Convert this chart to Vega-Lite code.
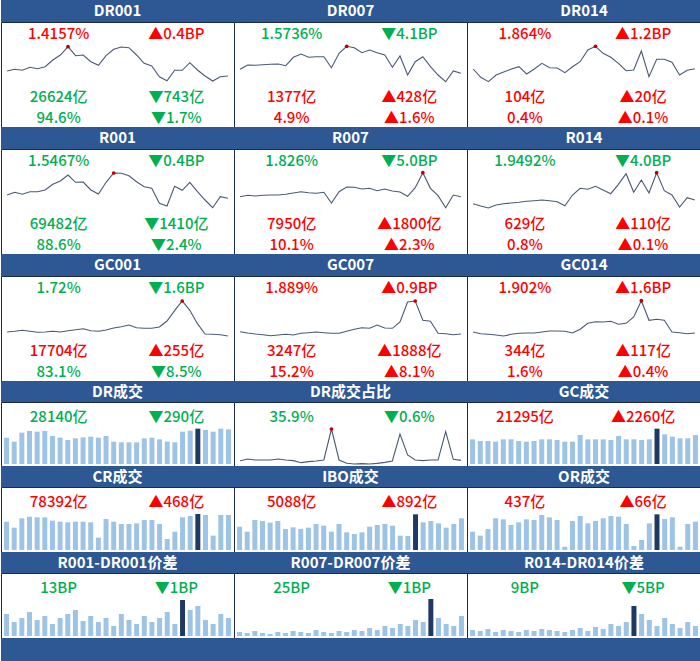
{
"$schema":"https://vega.github.io/schema/vega-lite/v6.json",
"padding":0,"background":"white",
"config":{"view":{"stroke":"#1c2b45","strokeWidth":1},"axis":{"disable":true},"legend":{"disable":true},"text":{"font":"Noto Sans CJK SC"}},
"datasets":{
"rates":[
{"p":"DR001","i":0,"v":56},{"p":"DR001","i":1,"v":57.7},{"p":"DR001","i":2,"v":56.7},{"p":"DR001","i":3,"v":59.7},{"p":"DR001","i":4,"v":58.3},{"p":"DR001","i":5,"v":60.3},{"p":"DR001","i":6,"v":67},{"p":"DR001","i":7,"v":72},{"p":"DR001","i":8,"v":80.3},{"p":"DR001","i":9,"v":71.3},{"p":"DR001","i":10,"v":72},{"p":"DR001","i":11,"v":65.3},{"p":"DR001","i":12,"v":61.7},{"p":"DR001","i":13,"v":71.3},{"p":"DR001","i":14,"v":77.7},{"p":"DR001","i":15,"v":80},{"p":"DR001","i":16,"v":79.3},{"p":"DR001","i":17,"v":72},{"p":"DR001","i":18,"v":63.7},{"p":"DR001","i":19,"v":61},{"p":"DR001","i":20,"v":50.3},{"p":"DR001","i":21,"v":46.3},{"p":"DR001","i":22,"v":56.7},{"p":"DR001","i":23,"v":56.7},{"p":"DR001","i":24,"v":64.3},{"p":"DR001","i":25,"v":57},{"p":"DR001","i":26,"v":51},{"p":"DR001","i":27,"v":46},{"p":"DR001","i":28,"v":50.3},{"p":"DR001","i":29,"v":51},
{"p":"DR007","i":0,"v":57.7},{"p":"DR007","i":1,"v":62},{"p":"DR007","i":2,"v":61.7},{"p":"DR007","i":3,"v":62.3},{"p":"DR007","i":4,"v":62.7},{"p":"DR007","i":5,"v":63},{"p":"DR007","i":6,"v":61.3},{"p":"DR007","i":7,"v":69.7},{"p":"DR007","i":8,"v":73},{"p":"DR007","i":9,"v":69.7},{"p":"DR007","i":10,"v":70.3},{"p":"DR007","i":11,"v":70.3},{"p":"DR007","i":12,"v":59.3},{"p":"DR007","i":13,"v":73.7},{"p":"DR007","i":14,"v":80.7},{"p":"DR007","i":15,"v":79.3},{"p":"DR007","i":16,"v":74.3},{"p":"DR007","i":17,"v":77},{"p":"DR007","i":18,"v":74.3},{"p":"DR007","i":19,"v":72},{"p":"DR007","i":20,"v":59.7},{"p":"DR007","i":21,"v":71},{"p":"DR007","i":22,"v":52},{"p":"DR007","i":23,"v":65.3},{"p":"DR007","i":24,"v":70.3},{"p":"DR007","i":25,"v":60.3},{"p":"DR007","i":26,"v":52},{"p":"DR007","i":27,"v":45.3},{"p":"DR007","i":28,"v":56},{"p":"DR007","i":29,"v":53.7},
{"p":"DR014","i":0,"v":58},{"p":"DR014","i":1,"v":49.7},{"p":"DR014","i":2,"v":45.3},{"p":"DR014","i":3,"v":52},{"p":"DR014","i":4,"v":55},{"p":"DR014","i":5,"v":58},{"p":"DR014","i":6,"v":60.3},{"p":"DR014","i":7,"v":53},{"p":"DR014","i":8,"v":58},{"p":"DR014","i":9,"v":63.7},{"p":"DR014","i":10,"v":59.3},{"p":"DR014","i":11,"v":59},{"p":"DR014","i":12,"v":54.3},{"p":"DR014","i":13,"v":60.3},{"p":"DR014","i":14,"v":65.3},{"p":"DR014","i":15,"v":77},{"p":"DR014","i":16,"v":80.7},{"p":"DR014","i":17,"v":73.7},{"p":"DR014","i":18,"v":69.7},{"p":"DR014","i":19,"v":63.7},{"p":"DR014","i":20,"v":56.3},{"p":"DR014","i":21,"v":57},{"p":"DR014","i":22,"v":76},{"p":"DR014","i":23,"v":50.3},{"p":"DR014","i":24,"v":67.7},{"p":"DR014","i":25,"v":67.7},{"p":"DR014","i":26,"v":64.7},{"p":"DR014","i":27,"v":52},{"p":"DR014","i":28,"v":56.7},{"p":"DR014","i":29,"v":58.3},
{"p":"R001","i":0,"v":59},{"p":"R001","i":1,"v":61.7},{"p":"R001","i":2,"v":59.7},{"p":"R001","i":3,"v":62.3},{"p":"R001","i":4,"v":62.3},{"p":"R001","i":5,"v":64},{"p":"R001","i":6,"v":69.7},{"p":"R001","i":7,"v":73},{"p":"R001","i":8,"v":79},{"p":"R001","i":9,"v":71.7},{"p":"R001","i":10,"v":72},{"p":"R001","i":11,"v":64},{"p":"R001","i":12,"v":60},{"p":"R001","i":13,"v":71.7},{"p":"R001","i":14,"v":81},{"p":"R001","i":15,"v":80.7},{"p":"R001","i":16,"v":78.3},{"p":"R001","i":17,"v":72.3},{"p":"R001","i":18,"v":67.3},{"p":"R001","i":19,"v":65.7},{"p":"R001","i":20,"v":50.7},{"p":"R001","i":21,"v":48},{"p":"R001","i":22,"v":67.7},{"p":"R001","i":23,"v":63.7},{"p":"R001","i":24,"v":71.7},{"p":"R001","i":25,"v":62.3},{"p":"R001","i":26,"v":54},{"p":"R001","i":27,"v":46.3},{"p":"R001","i":28,"v":57.3},{"p":"R001","i":29,"v":55.7},
{"p":"R007","i":0,"v":57.3},{"p":"R007","i":1,"v":58.7},{"p":"R007","i":2,"v":58},{"p":"R007","i":3,"v":58.7},{"p":"R007","i":4,"v":59},{"p":"R007","i":5,"v":59},{"p":"R007","i":6,"v":59.7},{"p":"R007","i":7,"v":61},{"p":"R007","i":8,"v":62.3},{"p":"R007","i":9,"v":61.3},{"p":"R007","i":10,"v":60.7},{"p":"R007","i":11,"v":61.7},{"p":"R007","i":12,"v":51},{"p":"R007","i":13,"v":62.3},{"p":"R007","i":14,"v":67},{"p":"R007","i":15,"v":66.7},{"p":"R007","i":16,"v":65},{"p":"R007","i":17,"v":65.7},{"p":"R007","i":18,"v":63.3},{"p":"R007","i":19,"v":65},{"p":"R007","i":20,"v":63},{"p":"R007","i":21,"v":62},{"p":"R007","i":22,"v":57.7},{"p":"R007","i":23,"v":66.3},{"p":"R007","i":24,"v":81.3},{"p":"R007","i":25,"v":65.7},{"p":"R007","i":26,"v":58.3},{"p":"R007","i":27,"v":46.3},{"p":"R007","i":28,"v":59},{"p":"R007","i":29,"v":57.3},
{"p":"R014","i":0,"v":50.3},{"p":"R014","i":1,"v":48},{"p":"R014","i":2,"v":46},{"p":"R014","i":3,"v":49},{"p":"R014","i":4,"v":50.3},{"p":"R014","i":5,"v":51},{"p":"R014","i":6,"v":51.7},{"p":"R014","i":7,"v":52.7},{"p":"R014","i":8,"v":53.3},{"p":"R014","i":9,"v":54},{"p":"R014","i":10,"v":53.3},{"p":"R014","i":11,"v":52.3},{"p":"R014","i":12,"v":48.3},{"p":"R014","i":13,"v":59},{"p":"R014","i":14,"v":65.7},{"p":"R014","i":15,"v":64.7},{"p":"R014","i":16,"v":67.7},{"p":"R014","i":17,"v":64},{"p":"R014","i":18,"v":60.3},{"p":"R014","i":19,"v":69.7},{"p":"R014","i":20,"v":80.3},{"p":"R014","i":21,"v":61.7},{"p":"R014","i":22,"v":74},{"p":"R014","i":23,"v":61},{"p":"R014","i":24,"v":81.3},{"p":"R014","i":25,"v":63.3},{"p":"R014","i":26,"v":59},{"p":"R014","i":27,"v":47},{"p":"R014","i":28,"v":56.3},{"p":"R014","i":29,"v":54},
{"p":"GC001","i":0,"v":49},{"p":"GC001","i":1,"v":49.7},{"p":"GC001","i":2,"v":50.7},{"p":"GC001","i":3,"v":49.7},{"p":"GC001","i":4,"v":48.7},{"p":"GC001","i":5,"v":49},{"p":"GC001","i":6,"v":49.7},{"p":"GC001","i":7,"v":49},{"p":"GC001","i":8,"v":50.3},{"p":"GC001","i":9,"v":51.3},{"p":"GC001","i":10,"v":52.3},{"p":"GC001","i":11,"v":50.3},{"p":"GC001","i":12,"v":49.7},{"p":"GC001","i":13,"v":51},{"p":"GC001","i":14,"v":53},{"p":"GC001","i":15,"v":54.3},{"p":"GC001","i":16,"v":56},{"p":"GC001","i":17,"v":53.3},{"p":"GC001","i":18,"v":52.7},{"p":"GC001","i":19,"v":52.7},{"p":"GC001","i":20,"v":54},{"p":"GC001","i":21,"v":60},{"p":"GC001","i":22,"v":70.3},{"p":"GC001","i":23,"v":80},{"p":"GC001","i":24,"v":70.7},{"p":"GC001","i":25,"v":57.3},{"p":"GC001","i":26,"v":47},{"p":"GC001","i":27,"v":46.7},{"p":"GC001","i":28,"v":46.3},{"p":"GC001","i":29,"v":45},
{"p":"GC007","i":0,"v":49.3},{"p":"GC007","i":1,"v":48},{"p":"GC007","i":2,"v":47},{"p":"GC007","i":3,"v":46.3},{"p":"GC007","i":4,"v":45.3},{"p":"GC007","i":5,"v":46},{"p":"GC007","i":6,"v":46.7},{"p":"GC007","i":7,"v":46},{"p":"GC007","i":8,"v":47.7},{"p":"GC007","i":9,"v":48.3},{"p":"GC007","i":10,"v":49},{"p":"GC007","i":11,"v":48.3},{"p":"GC007","i":12,"v":47.7},{"p":"GC007","i":13,"v":47.7},{"p":"GC007","i":14,"v":49.7},{"p":"GC007","i":15,"v":51.7},{"p":"GC007","i":16,"v":53.3},{"p":"GC007","i":17,"v":52.7},{"p":"GC007","i":18,"v":56},{"p":"GC007","i":19,"v":53},{"p":"GC007","i":20,"v":52.7},{"p":"GC007","i":21,"v":59},{"p":"GC007","i":22,"v":79},{"p":"GC007","i":23,"v":80},{"p":"GC007","i":24,"v":60.7},{"p":"GC007","i":25,"v":59.7},{"p":"GC007","i":26,"v":47.7},{"p":"GC007","i":27,"v":47.3},{"p":"GC007","i":28,"v":46.3},{"p":"GC007","i":29,"v":47},
{"p":"GC014","i":0,"v":49},{"p":"GC014","i":1,"v":47.3},{"p":"GC014","i":2,"v":46.7},{"p":"GC014","i":3,"v":46},{"p":"GC014","i":4,"v":45},{"p":"GC014","i":5,"v":46.7},{"p":"GC014","i":6,"v":47.7},{"p":"GC014","i":7,"v":48},{"p":"GC014","i":8,"v":48},{"p":"GC014","i":9,"v":49},{"p":"GC014","i":10,"v":50},{"p":"GC014","i":11,"v":50},{"p":"GC014","i":12,"v":49.7},{"p":"GC014","i":13,"v":48},{"p":"GC014","i":14,"v":51.7},{"p":"GC014","i":15,"v":57.7},{"p":"GC014","i":16,"v":59.3},{"p":"GC014","i":17,"v":59},{"p":"GC014","i":18,"v":59.7},{"p":"GC014","i":19,"v":56.7},{"p":"GC014","i":20,"v":57.7},{"p":"GC014","i":21,"v":64},{"p":"GC014","i":22,"v":80.3},{"p":"GC014","i":23,"v":60.7},{"p":"GC014","i":24,"v":61.7},{"p":"GC014","i":25,"v":60.7},{"p":"GC014","i":26,"v":49},{"p":"GC014","i":27,"v":48.3},{"p":"GC014","i":28,"v":47.3},{"p":"GC014","i":29,"v":48},
{"p":"DR成交占比","i":0,"v":10},{"p":"DR成交占比","i":1,"v":15},{"p":"DR成交占比","i":2,"v":12},{"p":"DR成交占比","i":3,"v":12},{"p":"DR成交占比","i":4,"v":12},{"p":"DR成交占比","i":5,"v":15},{"p":"DR成交占比","i":6,"v":12},{"p":"DR成交占比","i":7,"v":10},{"p":"DR成交占比","i":8,"v":4},{"p":"DR成交占比","i":9,"v":7},{"p":"DR成交占比","i":10,"v":9},{"p":"DR成交占比","i":11,"v":12},{"p":"DR成交占比","i":12,"v":105},{"p":"DR成交占比","i":13,"v":12},{"p":"DR成交占比","i":14,"v":2},{"p":"DR成交占比","i":15,"v":0},{"p":"DR成交占比","i":16,"v":1},{"p":"DR成交占比","i":17,"v":0},{"p":"DR成交占比","i":18,"v":2},{"p":"DR成交占比","i":19,"v":5},{"p":"DR成交占比","i":20,"v":9},{"p":"DR成交占比","i":21,"v":90},{"p":"DR成交占比","i":22,"v":27},{"p":"DR成交占比","i":23,"v":12},{"p":"DR成交占比","i":24,"v":10},{"p":"DR成交占比","i":25,"v":12},{"p":"DR成交占比","i":26,"v":12},{"p":"DR成交占比","i":27,"v":97},{"p":"DR成交占比","i":28,"v":14},{"p":"DR成交占比","i":29,"v":11}
],
"bars":[
{"p":"DR成交","i":0,"v":79},{"p":"DR成交","i":1,"v":67},{"p":"DR成交","i":2,"v":94},{"p":"DR成交","i":3,"v":99},{"p":"DR成交","i":4,"v":97},{"p":"DR成交","i":5,"v":99},{"p":"DR成交","i":6,"v":84},{"p":"DR成交","i":7,"v":79},{"p":"DR成交","i":8,"v":72},{"p":"DR成交","i":9,"v":77},{"p":"DR成交","i":10,"v":80},{"p":"DR成交","i":11,"v":82},{"p":"DR成交","i":12,"v":79},{"p":"DR成交","i":13,"v":84},{"p":"DR成交","i":14,"v":67},{"p":"DR成交","i":15,"v":65},{"p":"DR成交","i":16,"v":65},{"p":"DR成交","i":17,"v":65},{"p":"DR成交","i":18,"v":77},{"p":"DR成交","i":19,"v":79},{"p":"DR成交","i":20,"v":74},{"p":"DR成交","i":21,"v":67},{"p":"DR成交","i":22,"v":65},{"p":"DR成交","i":23,"v":97},{"p":"DR成交","i":24,"v":100},{"p":"DR成交","i":25,"v":106,"h":1},{"p":"DR成交","i":26,"v":102},{"p":"DR成交","i":27,"v":97},{"p":"DR成交","i":28,"v":106},{"p":"DR成交","i":29,"v":104},
{"p":"GC成交","i":0,"v":74},{"p":"GC成交","i":1,"v":69},{"p":"GC成交","i":2,"v":69},{"p":"GC成交","i":3,"v":67},{"p":"GC成交","i":4,"v":74},{"p":"GC成交","i":5,"v":74},{"p":"GC成交","i":6,"v":69},{"p":"GC成交","i":7,"v":67},{"p":"GC成交","i":8,"v":69},{"p":"GC成交","i":9,"v":74},{"p":"GC成交","i":10,"v":74},{"p":"GC成交","i":11,"v":72},{"p":"GC成交","i":12,"v":67},{"p":"GC成交","i":13,"v":67},{"p":"GC成交","i":14,"v":87},{"p":"GC成交","i":15,"v":74},{"p":"GC成交","i":16,"v":74},{"p":"GC成交","i":17,"v":74},{"p":"GC成交","i":18,"v":72},{"p":"GC成交","i":19,"v":84},{"p":"GC成交","i":20,"v":74},{"p":"GC成交","i":21,"v":74},{"p":"GC成交","i":22,"v":72},{"p":"GC成交","i":23,"v":74},{"p":"GC成交","i":24,"v":106,"h":1},{"p":"GC成交","i":25,"v":89},{"p":"GC成交","i":26,"v":82},{"p":"GC成交","i":27,"v":77},{"p":"GC成交","i":28,"v":77},{"p":"GC成交","i":29,"v":87},
{"p":"CR成交","i":0,"v":85},{"p":"CR成交","i":1,"v":67},{"p":"CR成交","i":2,"v":95},{"p":"CR成交","i":3,"v":100},{"p":"CR成交","i":4,"v":98},{"p":"CR成交","i":5,"v":98},{"p":"CR成交","i":6,"v":88},{"p":"CR成交","i":7,"v":85},{"p":"CR成交","i":8,"v":83},{"p":"CR成交","i":9,"v":85},{"p":"CR成交","i":10,"v":85},{"p":"CR成交","i":11,"v":83},{"p":"CR成交","i":12,"v":37},{"p":"CR成交","i":13,"v":93},{"p":"CR成交","i":14,"v":85},{"p":"CR成交","i":15,"v":78},{"p":"CR成交","i":16,"v":78},{"p":"CR成交","i":17,"v":80},{"p":"CR成交","i":18,"v":90},{"p":"CR成交","i":19,"v":90},{"p":"CR成交","i":20,"v":78},{"p":"CR成交","i":21,"v":33},{"p":"CR成交","i":22,"v":55},{"p":"CR成交","i":23,"v":98},{"p":"CR成交","i":24,"v":102},{"p":"CR成交","i":25,"v":108,"h":1},{"p":"CR成交","i":26,"v":105},{"p":"CR成交","i":27,"v":43},{"p":"CR成交","i":28,"v":105},{"p":"CR成交","i":29,"v":105},
{"p":"IBO成交","i":0,"v":70},{"p":"IBO成交","i":1,"v":55},{"p":"IBO成交","i":2,"v":90},{"p":"IBO成交","i":3,"v":87},{"p":"IBO成交","i":4,"v":82},{"p":"IBO成交","i":5,"v":87},{"p":"IBO成交","i":6,"v":63},{"p":"IBO成交","i":7,"v":68},{"p":"IBO成交","i":8,"v":63},{"p":"IBO成交","i":9,"v":67},{"p":"IBO成交","i":10,"v":78},{"p":"IBO成交","i":11,"v":73},{"p":"IBO成交","i":12,"v":55},{"p":"IBO成交","i":13,"v":78},{"p":"IBO成交","i":14,"v":53},{"p":"IBO成交","i":15,"v":48},{"p":"IBO成交","i":16,"v":53},{"p":"IBO成交","i":17,"v":70},{"p":"IBO成交","i":18,"v":75},{"p":"IBO成交","i":19,"v":78},{"p":"IBO成交","i":20,"v":73},{"p":"IBO成交","i":21,"v":43},{"p":"IBO成交","i":22,"v":42},{"p":"IBO成交","i":23,"v":107,"h":1},{"p":"IBO成交","i":24,"v":83},{"p":"IBO成交","i":25,"v":87},{"p":"IBO成交","i":26,"v":80},{"p":"IBO成交","i":27,"v":67},{"p":"IBO成交","i":28,"v":78},{"p":"IBO成交","i":29,"v":95},
{"p":"OR成交","i":0,"v":55},{"p":"OR成交","i":1,"v":43},{"p":"OR成交","i":2,"v":63},{"p":"OR成交","i":3,"v":95},{"p":"OR成交","i":4,"v":92},{"p":"OR成交","i":5,"v":75},{"p":"OR成交","i":6,"v":83},{"p":"OR成交","i":7,"v":92},{"p":"OR成交","i":8,"v":90},{"p":"OR成交","i":9,"v":105},{"p":"OR成交","i":10,"v":98},{"p":"OR成交","i":11,"v":90},{"p":"OR成交","i":12,"v":10},{"p":"OR成交","i":13,"v":87},{"p":"OR成交","i":14,"v":102},{"p":"OR成交","i":15,"v":80},{"p":"OR成交","i":16,"v":87},{"p":"OR成交","i":17,"v":95},{"p":"OR成交","i":18,"v":102},{"p":"OR成交","i":19,"v":100},{"p":"OR成交","i":20,"v":78},{"p":"OR成交","i":21,"v":12},{"p":"OR成交","i":22,"v":30},{"p":"OR成交","i":23,"v":80},{"p":"OR成交","i":24,"v":107,"h":1},{"p":"OR成交","i":25,"v":93},{"p":"OR成交","i":26,"v":98},{"p":"OR成交","i":27,"v":10},{"p":"OR成交","i":28,"v":78},{"p":"OR成交","i":29,"v":85},
{"p":"R001-DR001价差","i":0,"v":66},{"p":"R001-DR001价差","i":1,"v":42},{"p":"R001-DR001价差","i":2,"v":54},{"p":"R001-DR001价差","i":3,"v":72},{"p":"R001-DR001价差","i":4,"v":48},{"p":"R001-DR001价差","i":5,"v":60},{"p":"R001-DR001价差","i":6,"v":36},{"p":"R001-DR001价差","i":7,"v":54},{"p":"R001-DR001价差","i":8,"v":66},{"p":"R001-DR001价差","i":9,"v":78},{"p":"R001-DR001价差","i":10,"v":45},{"p":"R001-DR001价差","i":11,"v":60},{"p":"R001-DR001价差","i":12,"v":42},{"p":"R001-DR001价差","i":13,"v":54},{"p":"R001-DR001价差","i":14,"v":30},{"p":"R001-DR001价差","i":15,"v":66},{"p":"R001-DR001价差","i":16,"v":48},{"p":"R001-DR001价差","i":17,"v":36},{"p":"R001-DR001价差","i":18,"v":60},{"p":"R001-DR001价差","i":19,"v":42},{"p":"R001-DR001价差","i":20,"v":54},{"p":"R001-DR001价差","i":21,"v":72},{"p":"R001-DR001价差","i":22,"v":36},{"p":"R001-DR001价差","i":23,"v":108,"h":1},{"p":"R001-DR001价差","i":24,"v":78},{"p":"R001-DR001价差","i":25,"v":90},{"p":"R001-DR001价差","i":26,"v":48},{"p":"R001-DR001价差","i":27,"v":36},{"p":"R001-DR001价差","i":28,"v":66},{"p":"R001-DR001价差","i":29,"v":54},
{"p":"R007-DR007价差","i":0,"v":12},{"p":"R007-DR007价差","i":1,"v":9},{"p":"R007-DR007价差","i":2,"v":15},{"p":"R007-DR007价差","i":3,"v":9},{"p":"R007-DR007价差","i":4,"v":6},{"p":"R007-DR007价差","i":5,"v":12},{"p":"R007-DR007价差","i":6,"v":9},{"p":"R007-DR007价差","i":7,"v":15},{"p":"R007-DR007价差","i":8,"v":12},{"p":"R007-DR007价差","i":9,"v":9},{"p":"R007-DR007价差","i":10,"v":18},{"p":"R007-DR007价差","i":11,"v":12},{"p":"R007-DR007价差","i":12,"v":9},{"p":"R007-DR007价差","i":13,"v":15},{"p":"R007-DR007价差","i":14,"v":12},{"p":"R007-DR007价差","i":15,"v":18},{"p":"R007-DR007价差","i":16,"v":15},{"p":"R007-DR007价差","i":17,"v":24},{"p":"R007-DR007价差","i":18,"v":18},{"p":"R007-DR007价差","i":19,"v":30},{"p":"R007-DR007价差","i":20,"v":24},{"p":"R007-DR007价差","i":21,"v":36},{"p":"R007-DR007价差","i":22,"v":30},{"p":"R007-DR007价差","i":23,"v":48},{"p":"R007-DR007价差","i":24,"v":42},{"p":"R007-DR007价差","i":25,"v":111,"h":1},{"p":"R007-DR007价差","i":26,"v":54},{"p":"R007-DR007价差","i":27,"v":36},{"p":"R007-DR007价差","i":28,"v":30},{"p":"R007-DR007价差","i":29,"v":60},
{"p":"R014-DR014价差","i":0,"v":18},{"p":"R014-DR014价差","i":1,"v":15},{"p":"R014-DR014价差","i":2,"v":21},{"p":"R014-DR014价差","i":3,"v":12},{"p":"R014-DR014价差","i":4,"v":18},{"p":"R014-DR014价差","i":5,"v":15},{"p":"R014-DR014价差","i":6,"v":12},{"p":"R014-DR014价差","i":7,"v":18},{"p":"R014-DR014价差","i":8,"v":15},{"p":"R014-DR014价差","i":9,"v":21},{"p":"R014-DR014价差","i":10,"v":18},{"p":"R014-DR014价差","i":11,"v":15},{"p":"R014-DR014价差","i":12,"v":12},{"p":"R014-DR014价差","i":13,"v":18},{"p":"R014-DR014价差","i":14,"v":24},{"p":"R014-DR014价差","i":15,"v":15},{"p":"R014-DR014价差","i":16,"v":27},{"p":"R014-DR014价差","i":17,"v":21},{"p":"R014-DR014价差","i":18,"v":36},{"p":"R014-DR014价差","i":19,"v":30},{"p":"R014-DR014价差","i":20,"v":42},{"p":"R014-DR014价差","i":21,"v":90,"h":1},{"p":"R014-DR014价差","i":22,"v":66},{"p":"R014-DR014价差","i":23,"v":48},{"p":"R014-DR014价差","i":24,"v":30},{"p":"R014-DR014价差","i":25,"v":54},{"p":"R014-DR014价差","i":26,"v":36},{"p":"R014-DR014价差","i":27,"v":24},{"p":"R014-DR014价差","i":28,"v":42},{"p":"R014-DR014价差","i":29,"v":30}
],
"texts":[
{"p":"DR001","c":"L","r":"1","t":"1.4157%","s":"up"},{"p":"DR001","c":"R","r":"1","t":"▲0.4BP","s":"up"},{"p":"DR001","c":"L","r":"5","t":"26624亿","s":"down"},{"p":"DR001","c":"R","r":"5","t":"▼743亿","s":"down"},{"p":"DR001","c":"L","r":"6","t":"94.6%","s":"down"},{"p":"DR001","c":"R","r":"6","t":"▼1.7%","s":"down"},
{"p":"DR007","c":"L","r":"1","t":"1.5736%","s":"down"},{"p":"DR007","c":"R","r":"1","t":"▼4.1BP","s":"down"},{"p":"DR007","c":"L","r":"5","t":"1377亿","s":"up"},{"p":"DR007","c":"R","r":"5","t":"▲428亿","s":"up"},{"p":"DR007","c":"L","r":"6","t":"4.9%","s":"up"},{"p":"DR007","c":"R","r":"6","t":"▲1.6%","s":"up"},
{"p":"DR014","c":"L","r":"1","t":"1.864%","s":"up"},{"p":"DR014","c":"R","r":"1","t":"▲1.2BP","s":"up"},{"p":"DR014","c":"L","r":"5","t":"104亿","s":"up"},{"p":"DR014","c":"R","r":"5","t":"▲20亿","s":"up"},{"p":"DR014","c":"L","r":"6","t":"0.4%","s":"up"},{"p":"DR014","c":"R","r":"6","t":"▲0.1%","s":"up"},
{"p":"R001","c":"L","r":"1","t":"1.5467%","s":"down"},{"p":"R001","c":"R","r":"1","t":"▼0.4BP","s":"down"},{"p":"R001","c":"L","r":"5","t":"69482亿","s":"down"},{"p":"R001","c":"R","r":"5","t":"▼1410亿","s":"down"},{"p":"R001","c":"L","r":"6","t":"88.6%","s":"down"},{"p":"R001","c":"R","r":"6","t":"▼2.4%","s":"down"},
{"p":"R007","c":"L","r":"1","t":"1.826%","s":"down"},{"p":"R007","c":"R","r":"1","t":"▼5.0BP","s":"down"},{"p":"R007","c":"L","r":"5","t":"7950亿","s":"up"},{"p":"R007","c":"R","r":"5","t":"▲1800亿","s":"up"},{"p":"R007","c":"L","r":"6","t":"10.1%","s":"up"},{"p":"R007","c":"R","r":"6","t":"▲2.3%","s":"up"},
{"p":"R014","c":"L","r":"1","t":"1.9492%","s":"down"},{"p":"R014","c":"R","r":"1","t":"▼4.0BP","s":"down"},{"p":"R014","c":"L","r":"5","t":"629亿","s":"up"},{"p":"R014","c":"R","r":"5","t":"▲110亿","s":"up"},{"p":"R014","c":"L","r":"6","t":"0.8%","s":"up"},{"p":"R014","c":"R","r":"6","t":"▲0.1%","s":"up"},
{"p":"GC001","c":"L","r":"1","t":"1.72%","s":"down"},{"p":"GC001","c":"R","r":"1","t":"▼1.6BP","s":"down"},{"p":"GC001","c":"L","r":"5","t":"17704亿","s":"up"},{"p":"GC001","c":"R","r":"5","t":"▲255亿","s":"up"},{"p":"GC001","c":"L","r":"6","t":"83.1%","s":"down"},{"p":"GC001","c":"R","r":"6","t":"▼8.5%","s":"down"},
{"p":"GC007","c":"L","r":"1","t":"1.889%","s":"up"},{"p":"GC007","c":"R","r":"1","t":"▲0.9BP","s":"up"},{"p":"GC007","c":"L","r":"5","t":"3247亿","s":"up"},{"p":"GC007","c":"R","r":"5","t":"▲1888亿","s":"up"},{"p":"GC007","c":"L","r":"6","t":"15.2%","s":"up"},{"p":"GC007","c":"R","r":"6","t":"▲8.1%","s":"up"},
{"p":"GC014","c":"L","r":"1","t":"1.902%","s":"up"},{"p":"GC014","c":"R","r":"1","t":"▲1.6BP","s":"up"},{"p":"GC014","c":"L","r":"5","t":"344亿","s":"up"},{"p":"GC014","c":"R","r":"5","t":"▲117亿","s":"up"},{"p":"GC014","c":"L","r":"6","t":"1.6%","s":"up"},{"p":"GC014","c":"R","r":"6","t":"▲0.4%","s":"up"},
{"p":"DR成交","c":"L","r":"1","t":"28140亿","s":"down"},{"p":"DR成交","c":"R","r":"1","t":"▼290亿","s":"down"},
{"p":"DR成交占比","c":"L","r":"1","t":"35.9%","s":"down"},{"p":"DR成交占比","c":"R","r":"1","t":"▼0.6%","s":"down"},
{"p":"GC成交","c":"L","r":"1","t":"21295亿","s":"up"},{"p":"GC成交","c":"R","r":"1","t":"▲2260亿","s":"up"},
{"p":"CR成交","c":"L","r":"1","t":"78392亿","s":"up"},{"p":"CR成交","c":"R","r":"1","t":"▲468亿","s":"up"},
{"p":"IBO成交","c":"L","r":"1","t":"5088亿","s":"up"},{"p":"IBO成交","c":"R","r":"1","t":"▲892亿","s":"up"},
{"p":"OR成交","c":"L","r":"1","t":"437亿","s":"up"},{"p":"OR成交","c":"R","r":"1","t":"▲66亿","s":"up"},
{"p":"R001-DR001价差","c":"L","r":"1","t":"13BP","s":"down"},{"p":"R001-DR001价差","c":"R","r":"1","t":"▼1BP","s":"down"},
{"p":"R007-DR007价差","c":"L","r":"1","t":"25BP","s":"down"},{"p":"R007-DR007价差","c":"R","r":"1","t":"▼1BP","s":"down"},
{"p":"R014-DR014价差","c":"L","r":"1","t":"9BP","s":"down"},{"p":"R014-DR014价差","c":"R","r":"1","t":"▼5BP","s":"down"}
]
},
"columns":3,"spacing":0,"bounds":"flush",
"concat":[
{"width":233,"height":22,"view":{"fill":"#2E5893"},"data":{"values":[{"t":"DR001"}]},"mark":{"type":"text","color":"white","fontSize":15,"fontWeight":"bold","baseline":"middle"},"encoding":{"text":{"field":"t"}}},
{"width":233,"height":22,"view":{"fill":"#2E5893"},"data":{"values":[{"t":"DR007"}]},"mark":{"type":"text","color":"white","fontSize":15,"fontWeight":"bold","baseline":"middle"},"encoding":{"text":{"field":"t"}}},
{"width":234,"height":22,"view":{"fill":"#2E5893"},"data":{"values":[{"t":"DR014"}]},"mark":{"type":"text","color":"white","fontSize":15,"fontWeight":"bold","baseline":"middle"},"encoding":{"text":{"field":"t"}}},
{"width":233,"height":105,"layer":[
{"data":{"name":"rates"},"transform":[{"filter":"datum.p==='DR001'"}],"mark":{"type":"line","color":"#4A5A73","strokeWidth":1.1},"encoding":{"x":{"field":"i","type":"quantitative","scale":{"domain":[-0.8,29.8],"nice":false,"zero":false}},"y":{"field":"v","type":"quantitative","scale":{"domain":[0,105],"nice":false,"zero":false}}}},
{"data":{"name":"rates"},"transform":[{"filter":"datum.p==='DR001'"},{"joinaggregate":[{"op":"max","field":"v","as":"mx"}]},{"filter":"datum.v===datum.mx"}],"mark":{"type":"point","filled":true,"color":"#C00000","size":14,"opacity":1},"encoding":{"x":{"field":"i","type":"quantitative","scale":{"domain":[-0.8,29.8],"nice":false,"zero":false}},"y":{"field":"v","type":"quantitative","scale":{"domain":[0,105],"nice":false,"zero":false}}}},
{"data":{"name":"texts"},"transform":[{"filter":"datum.p==='DR001'"}],"mark":{"type":"text","fontSize":15,"fontWeight":500,"baseline":"middle"},"encoding":{"x":{"field":"c","type":"nominal","scale":{"type":"point","domain":["L","R"],"padding":0.49}},"y":{"field":"r","type":"ordinal","scale":{"type":"point","domain":["1","2","3","5","6"],"padding":0.5,"align":0.571}},"text":{"field":"t"},"color":{"field":"s","type":"nominal","scale":{"domain":["up","down"],"range":["#FF0000","#00B050"]}}}}
],"resolve":{"scale":{"x":"independent","y":"independent"}}},
{"width":233,"height":105,"layer":[
{"data":{"name":"rates"},"transform":[{"filter":"datum.p==='DR007'"}],"mark":{"type":"line","color":"#4A5A73","strokeWidth":1.1},"encoding":{"x":{"field":"i","type":"quantitative","scale":{"domain":[-0.8,29.8],"nice":false,"zero":false}},"y":{"field":"v","type":"quantitative","scale":{"domain":[0,105],"nice":false,"zero":false}}}},
{"data":{"name":"rates"},"transform":[{"filter":"datum.p==='DR007'"},{"joinaggregate":[{"op":"max","field":"v","as":"mx"}]},{"filter":"datum.v===datum.mx"}],"mark":{"type":"point","filled":true,"color":"#C00000","size":14,"opacity":1},"encoding":{"x":{"field":"i","type":"quantitative","scale":{"domain":[-0.8,29.8],"nice":false,"zero":false}},"y":{"field":"v","type":"quantitative","scale":{"domain":[0,105],"nice":false,"zero":false}}}},
{"data":{"name":"texts"},"transform":[{"filter":"datum.p==='DR007'"}],"mark":{"type":"text","fontSize":15,"fontWeight":500,"baseline":"middle"},"encoding":{"x":{"field":"c","type":"nominal","scale":{"type":"point","domain":["L","R"],"padding":0.49}},"y":{"field":"r","type":"ordinal","scale":{"type":"point","domain":["1","2","3","5","6"],"padding":0.5,"align":0.571}},"text":{"field":"t"},"color":{"field":"s","type":"nominal","scale":{"domain":["up","down"],"range":["#FF0000","#00B050"]}}}}
],"resolve":{"scale":{"x":"independent","y":"independent"}}},
{"width":234,"height":105,"layer":[
{"data":{"name":"rates"},"transform":[{"filter":"datum.p==='DR014'"}],"mark":{"type":"line","color":"#4A5A73","strokeWidth":1.1},"encoding":{"x":{"field":"i","type":"quantitative","scale":{"domain":[-0.8,29.8],"nice":false,"zero":false}},"y":{"field":"v","type":"quantitative","scale":{"domain":[0,105],"nice":false,"zero":false}}}},
{"data":{"name":"rates"},"transform":[{"filter":"datum.p==='DR014'"},{"joinaggregate":[{"op":"max","field":"v","as":"mx"}]},{"filter":"datum.v===datum.mx"}],"mark":{"type":"point","filled":true,"color":"#C00000","size":14,"opacity":1},"encoding":{"x":{"field":"i","type":"quantitative","scale":{"domain":[-0.8,29.8],"nice":false,"zero":false}},"y":{"field":"v","type":"quantitative","scale":{"domain":[0,105],"nice":false,"zero":false}}}},
{"data":{"name":"texts"},"transform":[{"filter":"datum.p==='DR014'"}],"mark":{"type":"text","fontSize":15,"fontWeight":500,"baseline":"middle"},"encoding":{"x":{"field":"c","type":"nominal","scale":{"type":"point","domain":["L","R"],"padding":0.49}},"y":{"field":"r","type":"ordinal","scale":{"type":"point","domain":["1","2","3","5","6"],"padding":0.5,"align":0.571}},"text":{"field":"t"},"color":{"field":"s","type":"nominal","scale":{"domain":["up","down"],"range":["#FF0000","#00B050"]}}}}
],"resolve":{"scale":{"x":"independent","y":"independent"}}},
{"width":233,"height":22,"view":{"fill":"#2E5893"},"data":{"values":[{"t":"R001"}]},"mark":{"type":"text","color":"white","fontSize":15,"fontWeight":"bold","baseline":"middle"},"encoding":{"text":{"field":"t"}}},
{"width":233,"height":22,"view":{"fill":"#2E5893"},"data":{"values":[{"t":"R007"}]},"mark":{"type":"text","color":"white","fontSize":15,"fontWeight":"bold","baseline":"middle"},"encoding":{"text":{"field":"t"}}},
{"width":234,"height":22,"view":{"fill":"#2E5893"},"data":{"values":[{"t":"R014"}]},"mark":{"type":"text","color":"white","fontSize":15,"fontWeight":"bold","baseline":"middle"},"encoding":{"text":{"field":"t"}}},
{"width":233,"height":105,"layer":[
{"data":{"name":"rates"},"transform":[{"filter":"datum.p==='R001'"}],"mark":{"type":"line","color":"#4A5A73","strokeWidth":1.1},"encoding":{"x":{"field":"i","type":"quantitative","scale":{"domain":[-0.8,29.8],"nice":false,"zero":false}},"y":{"field":"v","type":"quantitative","scale":{"domain":[0,105],"nice":false,"zero":false}}}},
{"data":{"name":"rates"},"transform":[{"filter":"datum.p==='R001'"},{"joinaggregate":[{"op":"max","field":"v","as":"mx"}]},{"filter":"datum.v===datum.mx"}],"mark":{"type":"point","filled":true,"color":"#C00000","size":14,"opacity":1},"encoding":{"x":{"field":"i","type":"quantitative","scale":{"domain":[-0.8,29.8],"nice":false,"zero":false}},"y":{"field":"v","type":"quantitative","scale":{"domain":[0,105],"nice":false,"zero":false}}}},
{"data":{"name":"texts"},"transform":[{"filter":"datum.p==='R001'"}],"mark":{"type":"text","fontSize":15,"fontWeight":500,"baseline":"middle"},"encoding":{"x":{"field":"c","type":"nominal","scale":{"type":"point","domain":["L","R"],"padding":0.49}},"y":{"field":"r","type":"ordinal","scale":{"type":"point","domain":["1","2","3","5","6"],"padding":0.5,"align":0.571}},"text":{"field":"t"},"color":{"field":"s","type":"nominal","scale":{"domain":["up","down"],"range":["#FF0000","#00B050"]}}}}
],"resolve":{"scale":{"x":"independent","y":"independent"}}},
{"width":233,"height":105,"layer":[
{"data":{"name":"rates"},"transform":[{"filter":"datum.p==='R007'"}],"mark":{"type":"line","color":"#4A5A73","strokeWidth":1.1},"encoding":{"x":{"field":"i","type":"quantitative","scale":{"domain":[-0.8,29.8],"nice":false,"zero":false}},"y":{"field":"v","type":"quantitative","scale":{"domain":[0,105],"nice":false,"zero":false}}}},
{"data":{"name":"rates"},"transform":[{"filter":"datum.p==='R007'"},{"joinaggregate":[{"op":"max","field":"v","as":"mx"}]},{"filter":"datum.v===datum.mx"}],"mark":{"type":"point","filled":true,"color":"#C00000","size":14,"opacity":1},"encoding":{"x":{"field":"i","type":"quantitative","scale":{"domain":[-0.8,29.8],"nice":false,"zero":false}},"y":{"field":"v","type":"quantitative","scale":{"domain":[0,105],"nice":false,"zero":false}}}},
{"data":{"name":"texts"},"transform":[{"filter":"datum.p==='R007'"}],"mark":{"type":"text","fontSize":15,"fontWeight":500,"baseline":"middle"},"encoding":{"x":{"field":"c","type":"nominal","scale":{"type":"point","domain":["L","R"],"padding":0.49}},"y":{"field":"r","type":"ordinal","scale":{"type":"point","domain":["1","2","3","5","6"],"padding":0.5,"align":0.571}},"text":{"field":"t"},"color":{"field":"s","type":"nominal","scale":{"domain":["up","down"],"range":["#FF0000","#00B050"]}}}}
],"resolve":{"scale":{"x":"independent","y":"independent"}}},
{"width":234,"height":105,"layer":[
{"data":{"name":"rates"},"transform":[{"filter":"datum.p==='R014'"}],"mark":{"type":"line","color":"#4A5A73","strokeWidth":1.1},"encoding":{"x":{"field":"i","type":"quantitative","scale":{"domain":[-0.8,29.8],"nice":false,"zero":false}},"y":{"field":"v","type":"quantitative","scale":{"domain":[0,105],"nice":false,"zero":false}}}},
{"data":{"name":"rates"},"transform":[{"filter":"datum.p==='R014'"},{"joinaggregate":[{"op":"max","field":"v","as":"mx"}]},{"filter":"datum.v===datum.mx"}],"mark":{"type":"point","filled":true,"color":"#C00000","size":14,"opacity":1},"encoding":{"x":{"field":"i","type":"quantitative","scale":{"domain":[-0.8,29.8],"nice":false,"zero":false}},"y":{"field":"v","type":"quantitative","scale":{"domain":[0,105],"nice":false,"zero":false}}}},
{"data":{"name":"texts"},"transform":[{"filter":"datum.p==='R014'"}],"mark":{"type":"text","fontSize":15,"fontWeight":500,"baseline":"middle"},"encoding":{"x":{"field":"c","type":"nominal","scale":{"type":"point","domain":["L","R"],"padding":0.49}},"y":{"field":"r","type":"ordinal","scale":{"type":"point","domain":["1","2","3","5","6"],"padding":0.5,"align":0.571}},"text":{"field":"t"},"color":{"field":"s","type":"nominal","scale":{"domain":["up","down"],"range":["#FF0000","#00B050"]}}}}
],"resolve":{"scale":{"x":"independent","y":"independent"}}},
{"width":233,"height":22,"view":{"fill":"#2E5893"},"data":{"values":[{"t":"GC001"}]},"mark":{"type":"text","color":"white","fontSize":15,"fontWeight":"bold","baseline":"middle"},"encoding":{"text":{"field":"t"}}},
{"width":233,"height":22,"view":{"fill":"#2E5893"},"data":{"values":[{"t":"GC007"}]},"mark":{"type":"text","color":"white","fontSize":15,"fontWeight":"bold","baseline":"middle"},"encoding":{"text":{"field":"t"}}},
{"width":234,"height":22,"view":{"fill":"#2E5893"},"data":{"values":[{"t":"GC014"}]},"mark":{"type":"text","color":"white","fontSize":15,"fontWeight":"bold","baseline":"middle"},"encoding":{"text":{"field":"t"}}},
{"width":233,"height":105,"layer":[
{"data":{"name":"rates"},"transform":[{"filter":"datum.p==='GC001'"}],"mark":{"type":"line","color":"#4A5A73","strokeWidth":1.1},"encoding":{"x":{"field":"i","type":"quantitative","scale":{"domain":[-0.8,29.8],"nice":false,"zero":false}},"y":{"field":"v","type":"quantitative","scale":{"domain":[0,105],"nice":false,"zero":false}}}},
{"data":{"name":"rates"},"transform":[{"filter":"datum.p==='GC001'"},{"joinaggregate":[{"op":"max","field":"v","as":"mx"}]},{"filter":"datum.v===datum.mx"}],"mark":{"type":"point","filled":true,"color":"#C00000","size":14,"opacity":1},"encoding":{"x":{"field":"i","type":"quantitative","scale":{"domain":[-0.8,29.8],"nice":false,"zero":false}},"y":{"field":"v","type":"quantitative","scale":{"domain":[0,105],"nice":false,"zero":false}}}},
{"data":{"name":"texts"},"transform":[{"filter":"datum.p==='GC001'"}],"mark":{"type":"text","fontSize":15,"fontWeight":500,"baseline":"middle"},"encoding":{"x":{"field":"c","type":"nominal","scale":{"type":"point","domain":["L","R"],"padding":0.49}},"y":{"field":"r","type":"ordinal","scale":{"type":"point","domain":["1","2","3","5","6"],"padding":0.5,"align":0.571}},"text":{"field":"t"},"color":{"field":"s","type":"nominal","scale":{"domain":["up","down"],"range":["#FF0000","#00B050"]}}}}
],"resolve":{"scale":{"x":"independent","y":"independent"}}},
{"width":233,"height":105,"layer":[
{"data":{"name":"rates"},"transform":[{"filter":"datum.p==='GC007'"}],"mark":{"type":"line","color":"#4A5A73","strokeWidth":1.1},"encoding":{"x":{"field":"i","type":"quantitative","scale":{"domain":[-0.8,29.8],"nice":false,"zero":false}},"y":{"field":"v","type":"quantitative","scale":{"domain":[0,105],"nice":false,"zero":false}}}},
{"data":{"name":"rates"},"transform":[{"filter":"datum.p==='GC007'"},{"joinaggregate":[{"op":"max","field":"v","as":"mx"}]},{"filter":"datum.v===datum.mx"}],"mark":{"type":"point","filled":true,"color":"#C00000","size":14,"opacity":1},"encoding":{"x":{"field":"i","type":"quantitative","scale":{"domain":[-0.8,29.8],"nice":false,"zero":false}},"y":{"field":"v","type":"quantitative","scale":{"domain":[0,105],"nice":false,"zero":false}}}},
{"data":{"name":"texts"},"transform":[{"filter":"datum.p==='GC007'"}],"mark":{"type":"text","fontSize":15,"fontWeight":500,"baseline":"middle"},"encoding":{"x":{"field":"c","type":"nominal","scale":{"type":"point","domain":["L","R"],"padding":0.49}},"y":{"field":"r","type":"ordinal","scale":{"type":"point","domain":["1","2","3","5","6"],"padding":0.5,"align":0.571}},"text":{"field":"t"},"color":{"field":"s","type":"nominal","scale":{"domain":["up","down"],"range":["#FF0000","#00B050"]}}}}
],"resolve":{"scale":{"x":"independent","y":"independent"}}},
{"width":234,"height":105,"layer":[
{"data":{"name":"rates"},"transform":[{"filter":"datum.p==='GC014'"}],"mark":{"type":"line","color":"#4A5A73","strokeWidth":1.1},"encoding":{"x":{"field":"i","type":"quantitative","scale":{"domain":[-0.8,29.8],"nice":false,"zero":false}},"y":{"field":"v","type":"quantitative","scale":{"domain":[0,105],"nice":false,"zero":false}}}},
{"data":{"name":"rates"},"transform":[{"filter":"datum.p==='GC014'"},{"joinaggregate":[{"op":"max","field":"v","as":"mx"}]},{"filter":"datum.v===datum.mx"}],"mark":{"type":"point","filled":true,"color":"#C00000","size":14,"opacity":1},"encoding":{"x":{"field":"i","type":"quantitative","scale":{"domain":[-0.8,29.8],"nice":false,"zero":false}},"y":{"field":"v","type":"quantitative","scale":{"domain":[0,105],"nice":false,"zero":false}}}},
{"data":{"name":"texts"},"transform":[{"filter":"datum.p==='GC014'"}],"mark":{"type":"text","fontSize":15,"fontWeight":500,"baseline":"middle"},"encoding":{"x":{"field":"c","type":"nominal","scale":{"type":"point","domain":["L","R"],"padding":0.49}},"y":{"field":"r","type":"ordinal","scale":{"type":"point","domain":["1","2","3","5","6"],"padding":0.5,"align":0.571}},"text":{"field":"t"},"color":{"field":"s","type":"nominal","scale":{"domain":["up","down"],"range":["#FF0000","#00B050"]}}}}
],"resolve":{"scale":{"x":"independent","y":"independent"}}},
{"width":233,"height":21,"view":{"fill":"#2E5893"},"data":{"values":[{"t":"DR成交"}]},"mark":{"type":"text","color":"white","fontSize":15,"fontWeight":"bold","baseline":"middle"},"encoding":{"text":{"field":"t"}}},
{"width":233,"height":21,"view":{"fill":"#2E5893"},"data":{"values":[{"t":"DR成交占比"}]},"mark":{"type":"text","color":"white","fontSize":15,"fontWeight":"bold","baseline":"middle"},"encoding":{"text":{"field":"t"}}},
{"width":234,"height":21,"view":{"fill":"#2E5893"},"data":{"values":[{"t":"GC成交"}]},"mark":{"type":"text","color":"white","fontSize":15,"fontWeight":"bold","baseline":"middle"},"encoding":{"text":{"field":"t"}}},
{"width":233,"height":64,"layer":[
{"data":{"name":"bars"},"transform":[{"filter":"datum.p==='DR成交'"}],"mark":{"type":"bar"},"encoding":{"x":{"field":"i","type":"ordinal","scale":{"paddingInner":0.35,"paddingOuter":0.4}},"y":{"field":"v","type":"quantitative","scale":{"domain":[-6,186],"nice":false,"zero":false}},"y2":{"datum":0},"color":{"condition":{"test":"datum.h===1","value":"#1F3864"},"value":"#9DC3E6"}}},
{"data":{"name":"texts"},"transform":[{"filter":"datum.p==='DR成交'"}],"mark":{"type":"text","fontSize":15,"fontWeight":500,"baseline":"middle"},"encoding":{"x":{"field":"c","type":"nominal","scale":{"type":"point","domain":["L","R"],"padding":0.49}},"y":{"field":"r","type":"ordinal","scale":{"type":"point","domain":["1","2"],"padding":0.42}},"text":{"field":"t"},"color":{"field":"s","type":"nominal","scale":{"domain":["up","down"],"range":["#FF0000","#00B050"]}}}}
],"resolve":{"scale":{"x":"independent","y":"independent"}}},
{"width":233,"height":64,"layer":[
{"data":{"name":"rates"},"transform":[{"filter":"datum.p==='DR成交占比'"}],"mark":{"type":"line","color":"#4A5A73","strokeWidth":1.1},"encoding":{"x":{"field":"i","type":"quantitative","scale":{"domain":[-0.8,29.8],"nice":false,"zero":false}},"y":{"field":"v","type":"quantitative","scale":{"domain":[-6,186],"nice":false,"zero":false}}}},
{"data":{"name":"rates"},"transform":[{"filter":"datum.p==='DR成交占比'"},{"joinaggregate":[{"op":"max","field":"v","as":"mx"}]},{"filter":"datum.v===datum.mx"}],"mark":{"type":"point","filled":true,"color":"#C00000","size":14,"opacity":1},"encoding":{"x":{"field":"i","type":"quantitative","scale":{"domain":[-0.8,29.8],"nice":false,"zero":false}},"y":{"field":"v","type":"quantitative","scale":{"domain":[-6,186],"nice":false,"zero":false}}}},
{"data":{"name":"texts"},"transform":[{"filter":"datum.p==='DR成交占比'"}],"mark":{"type":"text","fontSize":15,"fontWeight":500,"baseline":"middle"},"encoding":{"x":{"field":"c","type":"nominal","scale":{"type":"point","domain":["L","R"],"padding":0.49}},"y":{"field":"r","type":"ordinal","scale":{"type":"point","domain":["1","2"],"padding":0.42}},"text":{"field":"t"},"color":{"field":"s","type":"nominal","scale":{"domain":["up","down"],"range":["#FF0000","#00B050"]}}}}
],"resolve":{"scale":{"x":"independent","y":"independent"}}},
{"width":234,"height":64,"layer":[
{"data":{"name":"bars"},"transform":[{"filter":"datum.p==='GC成交'"}],"mark":{"type":"bar"},"encoding":{"x":{"field":"i","type":"ordinal","scale":{"paddingInner":0.35,"paddingOuter":0.4}},"y":{"field":"v","type":"quantitative","scale":{"domain":[-6,186],"nice":false,"zero":false}},"y2":{"datum":0},"color":{"condition":{"test":"datum.h===1","value":"#1F3864"},"value":"#9DC3E6"}}},
{"data":{"name":"texts"},"transform":[{"filter":"datum.p==='GC成交'"}],"mark":{"type":"text","fontSize":15,"fontWeight":500,"baseline":"middle"},"encoding":{"x":{"field":"c","type":"nominal","scale":{"type":"point","domain":["L","R"],"padding":0.49}},"y":{"field":"r","type":"ordinal","scale":{"type":"point","domain":["1","2"],"padding":0.42}},"text":{"field":"t"},"color":{"field":"s","type":"nominal","scale":{"domain":["up","down"],"range":["#FF0000","#00B050"]}}}}
],"resolve":{"scale":{"x":"independent","y":"independent"}}},
{"width":233,"height":21,"view":{"fill":"#2E5893"},"data":{"values":[{"t":"CR成交"}]},"mark":{"type":"text","color":"white","fontSize":15,"fontWeight":"bold","baseline":"middle"},"encoding":{"text":{"field":"t"}}},
{"width":233,"height":21,"view":{"fill":"#2E5893"},"data":{"values":[{"t":"IBO成交"}]},"mark":{"type":"text","color":"white","fontSize":15,"fontWeight":"bold","baseline":"middle"},"encoding":{"text":{"field":"t"}}},
{"width":234,"height":21,"view":{"fill":"#2E5893"},"data":{"values":[{"t":"OR成交"}]},"mark":{"type":"text","color":"white","fontSize":15,"fontWeight":"bold","baseline":"middle"},"encoding":{"text":{"field":"t"}}},
{"width":233,"height":65,"layer":[
{"data":{"name":"bars"},"transform":[{"filter":"datum.p==='CR成交'"}],"mark":{"type":"bar"},"encoding":{"x":{"field":"i","type":"ordinal","scale":{"paddingInner":0.35,"paddingOuter":0.4}},"y":{"field":"v","type":"quantitative","scale":{"domain":[-6,189],"nice":false,"zero":false}},"y2":{"datum":0},"color":{"condition":{"test":"datum.h===1","value":"#1F3864"},"value":"#9DC3E6"}}},
{"data":{"name":"texts"},"transform":[{"filter":"datum.p==='CR成交'"}],"mark":{"type":"text","fontSize":15,"fontWeight":500,"baseline":"middle"},"encoding":{"x":{"field":"c","type":"nominal","scale":{"type":"point","domain":["L","R"],"padding":0.49}},"y":{"field":"r","type":"ordinal","scale":{"type":"point","domain":["1","2"],"padding":0.42}},"text":{"field":"t"},"color":{"field":"s","type":"nominal","scale":{"domain":["up","down"],"range":["#FF0000","#00B050"]}}}}
],"resolve":{"scale":{"x":"independent","y":"independent"}}},
{"width":233,"height":65,"layer":[
{"data":{"name":"bars"},"transform":[{"filter":"datum.p==='IBO成交'"}],"mark":{"type":"bar"},"encoding":{"x":{"field":"i","type":"ordinal","scale":{"paddingInner":0.35,"paddingOuter":0.4}},"y":{"field":"v","type":"quantitative","scale":{"domain":[-6,189],"nice":false,"zero":false}},"y2":{"datum":0},"color":{"condition":{"test":"datum.h===1","value":"#1F3864"},"value":"#9DC3E6"}}},
{"data":{"name":"texts"},"transform":[{"filter":"datum.p==='IBO成交'"}],"mark":{"type":"text","fontSize":15,"fontWeight":500,"baseline":"middle"},"encoding":{"x":{"field":"c","type":"nominal","scale":{"type":"point","domain":["L","R"],"padding":0.49}},"y":{"field":"r","type":"ordinal","scale":{"type":"point","domain":["1","2"],"padding":0.42}},"text":{"field":"t"},"color":{"field":"s","type":"nominal","scale":{"domain":["up","down"],"range":["#FF0000","#00B050"]}}}}
],"resolve":{"scale":{"x":"independent","y":"independent"}}},
{"width":234,"height":65,"layer":[
{"data":{"name":"bars"},"transform":[{"filter":"datum.p==='OR成交'"}],"mark":{"type":"bar"},"encoding":{"x":{"field":"i","type":"ordinal","scale":{"paddingInner":0.35,"paddingOuter":0.4}},"y":{"field":"v","type":"quantitative","scale":{"domain":[-6,189],"nice":false,"zero":false}},"y2":{"datum":0},"color":{"condition":{"test":"datum.h===1","value":"#1F3864"},"value":"#9DC3E6"}}},
{"data":{"name":"texts"},"transform":[{"filter":"datum.p==='OR成交'"}],"mark":{"type":"text","fontSize":15,"fontWeight":500,"baseline":"middle"},"encoding":{"x":{"field":"c","type":"nominal","scale":{"type":"point","domain":["L","R"],"padding":0.49}},"y":{"field":"r","type":"ordinal","scale":{"type":"point","domain":["1","2"],"padding":0.42}},"text":{"field":"t"},"color":{"field":"s","type":"nominal","scale":{"domain":["up","down"],"range":["#FF0000","#00B050"]}}}}
],"resolve":{"scale":{"x":"independent","y":"independent"}}},
{"width":233,"height":21,"view":{"fill":"#2E5893"},"data":{"values":[{"t":"R001-DR001价差"}]},"mark":{"type":"text","color":"white","fontSize":15,"fontWeight":"bold","baseline":"middle"},"encoding":{"text":{"field":"t"}}},
{"width":233,"height":21,"view":{"fill":"#2E5893"},"data":{"values":[{"t":"R007-DR007价差"}]},"mark":{"type":"text","color":"white","fontSize":15,"fontWeight":"bold","baseline":"middle"},"encoding":{"text":{"field":"t"}}},
{"width":234,"height":21,"view":{"fill":"#2E5893"},"data":{"values":[{"t":"R014-DR014价差"}]},"mark":{"type":"text","color":"white","fontSize":15,"fontWeight":"bold","baseline":"middle"},"encoding":{"text":{"field":"t"}}},
{"width":233,"height":65,"layer":[
{"data":{"name":"bars"},"transform":[{"filter":"datum.p==='R001-DR001价差'"}],"mark":{"type":"bar"},"encoding":{"x":{"field":"i","type":"ordinal","scale":{"paddingInner":0.35,"paddingOuter":0.4}},"y":{"field":"v","type":"quantitative","scale":{"domain":[-6,189],"nice":false,"zero":false}},"y2":{"datum":0},"color":{"condition":{"test":"datum.h===1","value":"#1F3864"},"value":"#9DC3E6"}}},
{"data":{"name":"texts"},"transform":[{"filter":"datum.p==='R001-DR001价差'"}],"mark":{"type":"text","fontSize":15,"fontWeight":500,"baseline":"middle"},"encoding":{"x":{"field":"c","type":"nominal","scale":{"type":"point","domain":["L","R"],"padding":0.49}},"y":{"field":"r","type":"ordinal","scale":{"type":"point","domain":["1","2"],"padding":0.42}},"text":{"field":"t"},"color":{"field":"s","type":"nominal","scale":{"domain":["up","down"],"range":["#FF0000","#00B050"]}}}}
],"resolve":{"scale":{"x":"independent","y":"independent"}}},
{"width":233,"height":65,"layer":[
{"data":{"name":"bars"},"transform":[{"filter":"datum.p==='R007-DR007价差'"}],"mark":{"type":"bar"},"encoding":{"x":{"field":"i","type":"ordinal","scale":{"paddingInner":0.35,"paddingOuter":0.4}},"y":{"field":"v","type":"quantitative","scale":{"domain":[-6,189],"nice":false,"zero":false}},"y2":{"datum":0},"color":{"condition":{"test":"datum.h===1","value":"#1F3864"},"value":"#9DC3E6"}}},
{"data":{"name":"texts"},"transform":[{"filter":"datum.p==='R007-DR007价差'"}],"mark":{"type":"text","fontSize":15,"fontWeight":500,"baseline":"middle"},"encoding":{"x":{"field":"c","type":"nominal","scale":{"type":"point","domain":["L","R"],"padding":0.49}},"y":{"field":"r","type":"ordinal","scale":{"type":"point","domain":["1","2"],"padding":0.42}},"text":{"field":"t"},"color":{"field":"s","type":"nominal","scale":{"domain":["up","down"],"range":["#FF0000","#00B050"]}}}}
],"resolve":{"scale":{"x":"independent","y":"independent"}}},
{"width":234,"height":65,"layer":[
{"data":{"name":"bars"},"transform":[{"filter":"datum.p==='R014-DR014价差'"}],"mark":{"type":"bar"},"encoding":{"x":{"field":"i","type":"ordinal","scale":{"paddingInner":0.35,"paddingOuter":0.4}},"y":{"field":"v","type":"quantitative","scale":{"domain":[-6,189],"nice":false,"zero":false}},"y2":{"datum":0},"color":{"condition":{"test":"datum.h===1","value":"#1F3864"},"value":"#9DC3E6"}}},
{"data":{"name":"texts"},"transform":[{"filter":"datum.p==='R014-DR014价差'"}],"mark":{"type":"text","fontSize":15,"fontWeight":500,"baseline":"middle"},"encoding":{"x":{"field":"c","type":"nominal","scale":{"type":"point","domain":["L","R"],"padding":0.49}},"y":{"field":"r","type":"ordinal","scale":{"type":"point","domain":["1","2"],"padding":0.42}},"text":{"field":"t"},"color":{"field":"s","type":"nominal","scale":{"domain":["up","down"],"range":["#FF0000","#00B050"]}}}}
],"resolve":{"scale":{"x":"independent","y":"independent"}}},
{"width":233,"height":23,"view":{"fill":"#2E5893","stroke":"#2E5893"},"data":{"values":[{"t":""}]},"mark":{"type":"text"},"encoding":{"text":{"field":"t"}}},
{"width":233,"height":23,"view":{"fill":"#2E5893","stroke":"#2E5893"},"data":{"values":[{"t":""}]},"mark":{"type":"text"},"encoding":{"text":{"field":"t"}}},
{"width":234,"height":23,"view":{"fill":"#2E5893","stroke":"#2E5893"},"data":{"values":[{"t":""}]},"mark":{"type":"text"},"encoding":{"text":{"field":"t"}}}
]
}
